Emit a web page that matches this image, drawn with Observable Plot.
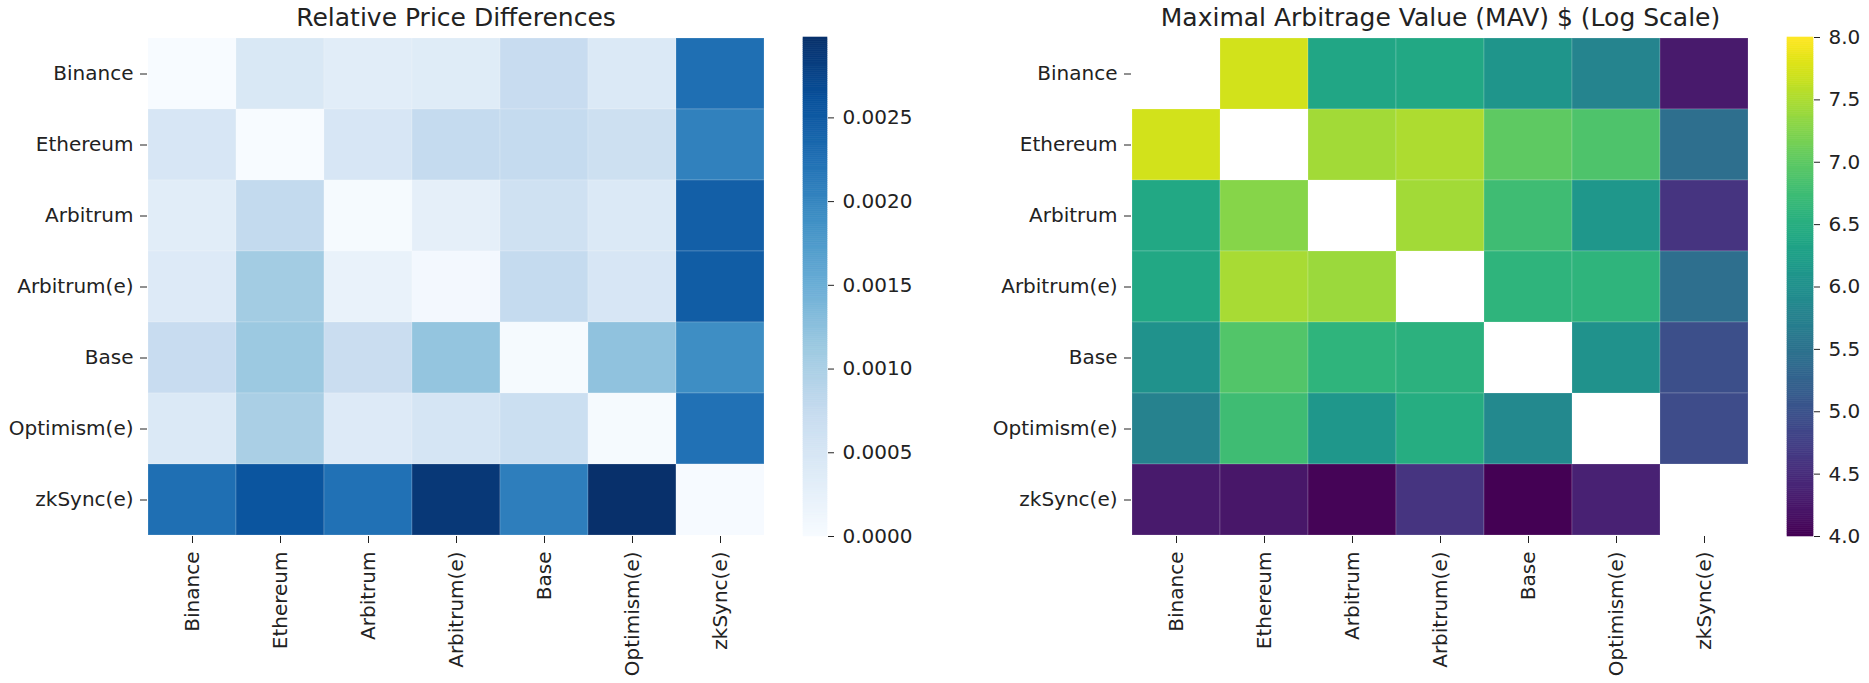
<!DOCTYPE html>
<html>
<head>
<meta charset="utf-8">
<script src="https://cdn.jsdelivr.net/npm/d3@7"></script>
<script src="https://cdn.jsdelivr.net/npm/@observablehq/plot@0.6"></script>
<style>
  html, body { margin: 0; padding: 0; background: #fff; }
  #root { position: relative; width: 1869px; height: 683px; background: #fff; overflow: hidden; }
  #root svg { position: absolute; top: 0; overflow: visible; }
</style>
</head>
<body>
<div id="root"></div>
<script>
// ---------- data ----------
const names = ["Binance", "Ethereum", "Arbitrum", "Arbitrum(e)", "Base", "Optimism(e)", "zkSync(e)"];

// Relative price differences (rows = names, columns = names)
const priceBinance    = [0.00000, 0.00045, 0.00033, 0.00036, 0.00072, 0.00042, 0.00226];
const priceEthereum   = [0.00048, 0.00000, 0.00048, 0.00075, 0.00075, 0.00063, 0.00206];
const priceArbitrum   = [0.00033, 0.00077, 0.00003, 0.00027, 0.00060, 0.00042, 0.00244];
const priceArbitrumE  = [0.00039, 0.00107, 0.00021, 0.00006, 0.00075, 0.00048, 0.00247];
const priceBase       = [0.00072, 0.00113, 0.00069, 0.00119, 0.00003, 0.00122, 0.00191];
const priceOptimismE  = [0.00042, 0.00101, 0.00039, 0.00051, 0.00066, 0.00003, 0.00224];
const priceZkSyncE    = [0.00226, 0.00256, 0.00224, 0.00289, 0.00209, 0.00298, 0.00002];

// Maximal arbitrage value, log scale (null = empty cell)
const mavBinance    = [null, 7.72, 6.36, 6.40, 6.08, 5.80, 4.28];
const mavEthereum   = [7.72, null, 7.44, 7.50, 7.00, 6.88, 5.45];
const mavArbitrum   = [6.40, 7.28, null, 7.44, 6.76, 6.12, 4.60];
const mavArbitrumE  = [6.40, 7.48, 7.40, null, 6.60, 6.60, 5.44];
const mavBase       = [6.04, 6.92, 6.60, 6.56, null, 6.04, 4.96];
const mavOptimismE  = [5.76, 6.76, 6.12, 6.48, 5.88, null, 4.92];
const mavZkSyncE    = [4.28, 4.24, 4.04, 4.60, 4.00, 4.36, null];

const priceTicks = [0, 0.0005, 0.0010, 0.0015, 0.0020, 0.0025];
const mavTicks = [4.0, 4.5, 5.0, 5.5, 6.0, 6.5, 7.0, 7.5, 8.0];
const mavDomain = [4, 8];

const titleLeft = "Relative Price Differences";
const titleRight = "Maximal Arbitrage Value (MAV) $ (Log Scale)";

// matplotlib "Blues" anchor colours
const bluesColors = ["#f7fbff", "#deebf7", "#c6dbef", "#9ecae1", "#6baed6", "#4292c6", "#2171b5", "#08519c", "#08306b"];

// ---------- build tables ----------
const priceRows = [priceBinance, priceEthereum, priceArbitrum, priceArbitrumE, priceBase, priceOptimismE, priceZkSyncE];
const mavRows = [mavBinance, mavEthereum, mavArbitrum, mavArbitrumE, mavBase, mavOptimismE, mavZkSyncE];

function toTable(rows) {
  const out = [];
  rows.forEach((r, i) => r.forEach((v, j) => {
    if (v !== null) out.push({row: names[i], col: names[j], value: v});
  }));
  return out;
}
const priceData = toTable(priceRows);
const mavData = toTable(mavRows);

const priceMin = d3.min(priceData, d => d.value);
const priceMax = d3.max(priceData, d => d.value);

const bluesColor = {
  type: "linear",
  domain: bluesColors.map((c, i) => priceMin + (priceMax - priceMin) * i / (bluesColors.length - 1)),
  range: bluesColors,
  interpolate: "rgb"
};
const viridisColor = {type: "linear", scheme: "viridis", domain: mavDomain};

const FONT = "DejaVu Sans";
const INK = "#222";
const TOP = 37, BOTTOM = 147, H = 683;

function heatmap({data, color, width, ml, mr, title, left}) {
  const svg = Plot.plot({
    width, height: H,
    marginLeft: ml, marginRight: mr, marginTop: TOP, marginBottom: BOTTOM,
    style: {fontFamily: FONT, fontSize: "20px", color: INK, background: "transparent"},
    x: {domain: names, padding: 0, label: null, tickRotate: -90, tickSize: 7, tickPadding: 8},
    y: {domain: names, padding: 0, label: null, tickSize: 7, tickPadding: 7},
    color,
    marks: [
      Plot.cell(data, {x: "col", y: "row", fill: "value", stroke: "#ffffff", strokeOpacity: 0.18, strokeWidth: 1}),
      Plot.text([title], {text: d => d, frameAnchor: "top", lineAnchor: "middle", dy: -20, fontSize: 25, fill: INK})
    ]
  });
  svg.style.left = left + "px";
  return svg;
}

function colorbar({color, domain, ticks, fmt, width, mr, left}) {
  const N = 240;
  const step = (domain[1] - domain[0]) / N;
  const slices = d3.range(N).map(i => domain[0] + step * i);
  const svg = Plot.plot({
    width, height: H,
    marginLeft: 0, marginRight: mr, marginTop: TOP, marginBottom: BOTTOM,
    style: {fontFamily: FONT, fontSize: "20px", color: INK, background: "transparent"},
    x: {domain: [0, 1], axis: null},
    y: {domain, axis: "right", ticks, tickFormat: fmt, tickSize: 6, tickPadding: 9, label: null},
    color,
    marks: [
      Plot.rect(slices, {x1: () => 0, x2: () => 1, y1: d => d, y2: d => d + step,
        fill: d => d + step / 2, stroke: d => d + step / 2, strokeWidth: 0.6})
    ]
  });
  svg.style.left = left + "px";
  return svg;
}

const root = document.getElementById("root");
root.appendChild(heatmap({data: priceData, color: bluesColor, width: 780, ml: 147, mr: 16, title: titleLeft, left: 0}));
root.appendChild(colorbar({color: bluesColor, domain: [priceMin, priceMax], ticks: priceTicks, fmt: d3.format(".4f"), width: 140, mr: 116, left: 803}));
root.appendChild(heatmap({data: mavData, color: viridisColor, width: 840, ml: 201, mr: 21, title: titleRight, left: 930}));
root.appendChild(colorbar({color: viridisColor, domain: mavDomain, ticks: mavTicks, fmt: d3.format(".1f"), width: 82, mr: 56, left: 1787}));
</script>
</body>
</html>
